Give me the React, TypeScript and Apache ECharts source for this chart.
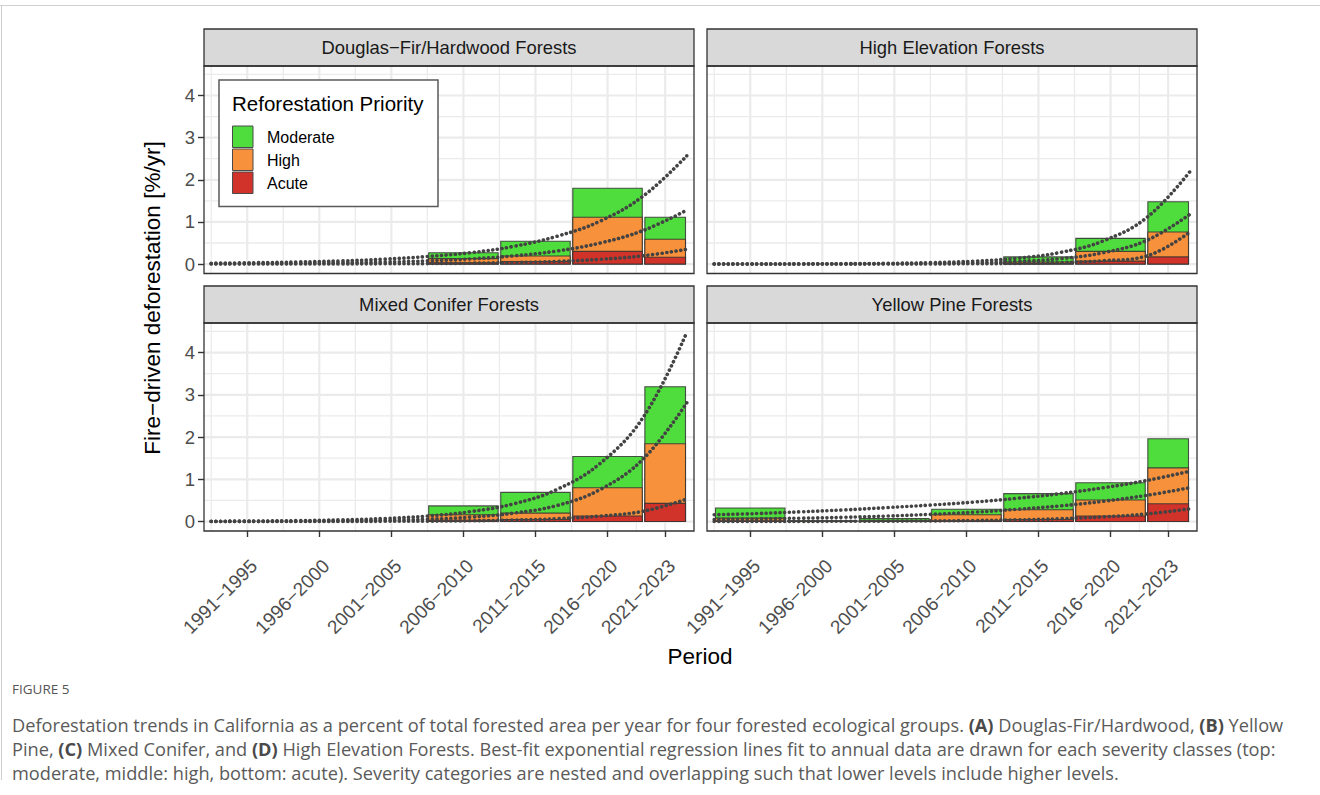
import React, { useEffect, useRef } from "react";
import * as echarts from "echarts";

const FONT = "'Liberation Sans', Arial, Helvetica, sans-serif";
const CAP_FONT = "'Open Sans', 'Noto Sans', sans-serif";

// ---------- data ----------
const panelTitles = [
  "Douglas−Fir/Hardwood Forests",
  "High Elevation Forests",
  "Mixed Conifer Forests",
  "Yellow Pine Forests",
];
const periodLabels = ["1991−1995", "1996−2000", "2001−2005", "2006−2010", "2011−2015", "2016−2020", "2021−2023"];
const periodStart = [1990.5, 1995.5, 2000.5, 2005.5, 2010.5, 2015.5, 2020.5];
const periodEnd = [1995.5, 2000.5, 2005.5, 2010.5, 2015.5, 2020.5, 2023.5];
const periodMid = [1993, 1998, 2003, 2008, 2013, 2018, 2022];
const xMinorBreaks = [1990.5, 1995.5, 2000.5, 2005.5, 2010.5, 2015.5, 2020];
const yTicks = [0, 1, 2, 3, 4];
const yMinorBreaks = [0.5, 1.5, 2.5, 3.5, 4.5];
const xRange = [1990, 2024];
const yRange = [-0.224, 4.7];

const severity = ["Moderate", "High", "Acute"];
const severityColors = ["#4FDC3D", "#F8913B", "#D1322A"];

// bar values (%/yr) per period
const douglasModerate = [0, 0, 0, 0.27, 0.54, 1.8, 1.11];
const douglasHigh = [0, 0, 0, 0.13, 0.19, 1.11, 0.59];
const douglasAcute = [0, 0, 0, 0.03, 0.06, 0.3, 0.16];

const highElevModerate = [0, 0, 0, 0, 0.17, 0.61, 1.48];
const highElevHigh = [0, 0, 0, 0, 0.05, 0.3, 0.76];
const highElevAcute = [0, 0, 0, 0, 0.01, 0.07, 0.17];

const mixedModerate = [0, 0, 0, 0.37, 0.69, 1.54, 3.19];
const mixedHigh = [0, 0, 0, 0.16, 0.2, 0.8, 1.84];
const mixedAcute = [0, 0, 0, 0.03, 0.05, 0.13, 0.43];

const yellowModerate = [0.32, 0.02, 0.07, 0.29, 0.66, 0.92, 1.96];
const yellowHigh = [0.08, 0.01, 0.02, 0.16, 0.28, 0.51, 1.27];
const yellowAcute = [0.02, 0, 0.005, 0.02, 0.05, 0.13, 0.42];

// exponential fit curves, values at these years
const fitYears = [1990.5, 1993.5, 1996.5, 1999.5, 2002.5, 2005.5, 2008.5, 2011.5, 2014.5, 2017.5, 2020.5, 2023.5];

const douglasFitModerate = [0.02, 0.032, 0.05, 0.075, 0.115, 0.18, 0.27, 0.42, 0.66, 1.02, 1.62, 2.57];
const douglasFitHigh = [0.007, 0.012, 0.019, 0.03, 0.048, 0.076, 0.122, 0.195, 0.31, 0.5, 0.8, 1.28];
const douglasFitAcute = [0.001, 0.001, 0.002, 0.004, 0.006, 0.011, 0.02, 0.036, 0.063, 0.112, 0.198, 0.35];

const highElevFitModerate = [0.001, 0.002, 0.004, 0.009, 0.017, 0.034, 0.069, 0.138, 0.275, 0.55, 1.1, 2.19];
const highElevFitHigh = [0.0, 0.001, 0.002, 0.003, 0.007, 0.014, 0.029, 0.061, 0.128, 0.27, 0.56, 1.18];
const highElevFitAcute = [0.0, 0.0, 0.0005, 0.001, 0.002, 0.003, 0.007, 0.015, 0.035, 0.08, 0.19, 0.76];

const mixedFitModerate = [0.007, 0.012, 0.022, 0.04, 0.072, 0.13, 0.235, 0.42, 0.76, 1.38, 2.48, 4.48];
const mixedFitHigh = [0.002, 0.004, 0.008, 0.015, 0.029, 0.055, 0.105, 0.2, 0.38, 0.76, 1.49, 2.81];
const mixedFitAcute = [0.0, 0.0005, 0.001, 0.002, 0.005, 0.009, 0.018, 0.035, 0.068, 0.13, 0.245, 0.53];

const yellowFitModerate = [0.16, 0.19, 0.23, 0.275, 0.33, 0.39, 0.46, 0.55, 0.66, 0.8, 0.97, 1.19];
const yellowFitHigh = [0.048, 0.062, 0.08, 0.1, 0.13, 0.17, 0.22, 0.29, 0.37, 0.48, 0.62, 0.8];
const yellowFitAcute = [0.001, 0.002, 0.003, 0.006, 0.009, 0.015, 0.025, 0.04, 0.067, 0.11, 0.18, 0.3];

const panelBars = [
  [douglasModerate, douglasHigh, douglasAcute],
  [highElevModerate, highElevHigh, highElevAcute],
  [mixedModerate, mixedHigh, mixedAcute],
  [yellowModerate, yellowHigh, yellowAcute],
];
const panelFits = [
  [douglasFitModerate, douglasFitHigh, douglasFitAcute],
  [highElevFitModerate, highElevFitHigh, highElevFitAcute],
  [mixedFitModerate, mixedFitHigh, mixedFitAcute],
  [yellowFitModerate, yellowFitHigh, yellowFitAcute],
];

const captionLines = [
  "Deforestation trends in California as a percent of total forested area per year for four forested ecological groups. {b|(A)} Douglas-Fir/Hardwood, {b|(B)} Yellow",
  "Pine, {b|(C)} Mixed Conifer, and {b|(D)} High Elevation Forests. Best-fit exponential regression lines fit to annual data are drawn for each severity classes (top:",
  "moderate, middle: high, bottom: acute). Severity categories are nested and overlapping such that lower levels include higher levels.",
];

// ---------- layout ----------
const panels = [
  { left: 204, top: 66, width: 490, height: 207.5, bottom: false, leftCol: true },
  { left: 707, top: 66, width: 490, height: 207.5, bottom: false, leftCol: false },
  { left: 204, top: 323, width: 490, height: 208, bottom: true, leftCol: true },
  { left: 707, top: 323, width: 490, height: 208, bottom: true, leftCol: false },
];
const STRIP_H = 37;
const BAR_INSET = 0.09;

function buildOption() {
  const grid = panels.map((p) => ({ left: p.left, top: p.top, width: p.width, height: p.height, containLabel: false }));
  const xAxis = panels.map((p, i) => ({
    type: "value",
    gridIndex: i,
    min: xRange[0],
    max: xRange[1],
    axisLine: { show: false, onZero: false },
    splitLine: { show: false },
    axisTick: {
      show: p.bottom,
      customValues: periodMid,
      length: 6,
      lineStyle: { color: "#333333", width: 1.4 },
    },
    axisLabel: {
      show: p.bottom,
      customValues: periodMid,
      formatter: (v: number) => {
        const k = periodMid.indexOf(v);
        return k >= 0 ? periodLabels[k] : "";
      },
      rotate: 45,
      align: "right",
      verticalAlign: "top",
      margin: 25,
      fontSize: 19,
      color: "#4D4D4D",
      fontFamily: FONT,
    },
  }));
  const yAxis = panels.map((p, i) => ({
    type: "value",
    gridIndex: i,
    min: yRange[0],
    max: yRange[1],
    axisLine: { show: false, onZero: false },
    splitLine: { show: false },
    axisTick: {
      show: p.leftCol,
      customValues: yTicks,
      length: 6,
      lineStyle: { color: "#333333", width: 1.4 },
    },
    axisLabel: {
      show: p.leftCol,
      customValues: yTicks,
      margin: 9,
      fontSize: 18.5,
      color: "#4D4D4D",
      fontFamily: FONT,
    },
  }));

  const series: any[] = [];
  panels.forEach((p, i) => {
    // vertical gridlines
    series.push({
      type: "custom",
      xAxisIndex: i,
      yAxisIndex: i,
      silent: true,
      z: 1,
      encode: { x: 0, y: 1 },
      data: periodMid.map((v) => [v, 0, 1]).concat(xMinorBreaks.map((v) => [v, 0, 0])),
      renderItem: (params: any, api: any) => {
        const cs = params.coordSys;
        const pt = api.coord([api.value(0), 0]);
        const major = api.value(2) === 1;
        return {
          type: "line",
          shape: { x1: pt[0], y1: cs.y, x2: pt[0], y2: cs.y + cs.height },
          style: { stroke: "#EBEBEB", lineWidth: major ? 2.2 : 1.3 },
        };
      },
    });
    // horizontal gridlines
    series.push({
      type: "custom",
      xAxisIndex: i,
      yAxisIndex: i,
      silent: true,
      z: 1,
      encode: { x: 0, y: 1 },
      data: yTicks.map((v) => [2000, v, 1]).concat(yMinorBreaks.map((v) => [2000, v, 0])),
      renderItem: (params: any, api: any) => {
        const cs = params.coordSys;
        const pt = api.coord([2000, api.value(1)]);
        const major = api.value(2) === 1;
        return {
          type: "line",
          shape: { x1: cs.x, y1: pt[1], x2: cs.x + cs.width, y2: pt[1] },
          style: { stroke: "#EBEBEB", lineWidth: major ? 2.2 : 1.3 },
        };
      },
    });
    // bars: moderate, high, acute (overlapping, nested)
    panelBars[i].forEach((vals, s) => {
      series.push({
        type: "custom",
        name: severity[s],
        xAxisIndex: i,
        yAxisIndex: i,
        silent: true,
        z: 2 + s * 0.1,
        encode: { x: [0, 1], y: 2 },
        data: vals.map((v, k) => [periodStart[k], periodEnd[k], v]),
        renderItem: (params: any, api: any) => {
          const v = api.value(2);
          if (!v) return null;
          const p0 = api.coord([api.value(0) + BAR_INSET, v]);
          const p1 = api.coord([api.value(1) - BAR_INSET, 0]);
          return {
            type: "rect",
            shape: { x: p0[0], y: p0[1], width: p1[0] - p0[0], height: p1[1] - p0[1] },
            style: { fill: severityColors[s], stroke: "rgba(50,50,50,0.85)", lineWidth: 1.1 },
          };
        },
      });
    });
    // fitted curves
    panelFits[i].forEach((vals, s) => {
      series.push({
        type: "line",
        name: severity[s] + " fit",
        xAxisIndex: i,
        yAxisIndex: i,
        silent: true,
        z: 5,
        showSymbol: false,
        symbol: "none",
        smooth: 0.4,
        data: fitYears.map((x, k) => [x, vals[k]]),
        lineStyle: { color: "#434343", width: 3.6, type: [0.1, 4.6], cap: "round" },
      });
    });
  });

  const graphic: any[] = [];
  // frame lines
  graphic.push({ type: "line", z: 50, shape: { x1: 0, y1: 5.5, x2: 1320, y2: 5.5 }, style: { stroke: "#CFCFCF", lineWidth: 1 } });
  graphic.push({ type: "line", z: 50, shape: { x1: 1.5, y1: 5.5, x2: 1.5, y2: 780 }, style: { stroke: "#CFCFCF", lineWidth: 1 } });

  panels.forEach((p, i) => {
    graphic.push({
      type: "rect",
      z: 60,
      shape: { x: p.left, y: p.top - STRIP_H, width: p.width, height: STRIP_H },
      style: { fill: "#D9D9D9", stroke: "#333333", lineWidth: 1.3 },
    });
    graphic.push({
      type: "text",
      z: 61,
      x: p.left + p.width / 2,
      y: p.top - STRIP_H / 2,
      style: {
        text: panelTitles[i],
        fontSize: 18.4,
        fontFamily: FONT,
        fill: "#1A1A1A",
        align: "center",
        verticalAlign: "middle",
      },
    });
    graphic.push({
      type: "rect",
      z: 60,
      shape: { x: p.left, y: p.top, width: p.width, height: p.height },
      style: { fill: "none", stroke: "#333333", lineWidth: 1.3 },
    });
  });

  // legend
  const L = { x: 219, y: 80, w: 219, h: 126.5 };
  graphic.push({
    type: "rect",
    z: 70,
    shape: { x: L.x, y: L.y, width: L.w, height: L.h },
    style: { fill: "#FFFFFF", stroke: "#5A5A5A", lineWidth: 1.5 },
  });
  graphic.push({
    type: "text",
    z: 71,
    x: 232,
    y: 103,
    style: { text: "Reforestation Priority", fontSize: 20.5, fontFamily: FONT, fill: "#000", align: "left", verticalAlign: "middle" },
  });
  severity.forEach((name, s) => {
    graphic.push({
      type: "rect",
      z: 71,
      shape: { x: 232.5, y: 126 + s * 23, width: 20.5, height: 21.5 },
      style: { fill: severityColors[s], stroke: "#4A4A4A", lineWidth: 1 },
    });
    graphic.push({
      type: "text",
      z: 71,
      x: 267,
      y: 137 + s * 23,
      style: { text: name, fontSize: 16, fontFamily: FONT, fill: "#000", align: "left", verticalAlign: "middle" },
    });
  });

  // axis titles
  graphic.push({
    type: "text",
    z: 71,
    x: 152,
    y: 298,
    rotation: Math.PI / 2,
    style: {
      text: "Fire−driven deforestation [%/yr]",
      fontSize: 22.5,
      fontFamily: FONT,
      fill: "#000",
      align: "center",
      verticalAlign: "middle",
    },
  });
  graphic.push({
    type: "text",
    z: 71,
    x: 700,
    y: 656,
    style: { text: "Period", fontSize: 22.5, fontFamily: FONT, fill: "#000", align: "center", verticalAlign: "middle" },
  });

  // caption
  graphic.push({
    type: "text",
    z: 71,
    x: 12,
    y: 689,
    style: { text: "FIGURE 5", fontSize: 13.5, fontFamily: CAP_FONT, fill: "#555555", align: "left", verticalAlign: "middle" },
  });
  captionLines.forEach((line, k) => {
    graphic.push({
      type: "text",
      z: 71,
      x: 12,
      y: 725 + k * 24,
      style: {
        text: line,
        fontSize: 18.2,
        fontFamily: CAP_FONT,
        fill: "#5A5A5A",
        align: "left",
        verticalAlign: "middle",
        rich: {
          b: { fontSize: 18.2, fontFamily: CAP_FONT, fontWeight: "bold", fill: "#4A4A4A" },
        },
      },
    });
  });

  return {
    animation: false,
    backgroundColor: "#FFFFFF",
    grid,
    xAxis,
    yAxis,
    series,
    graphic,
  };
}

export default function App() {
  const ref = useRef<HTMLDivElement>(null);
  useEffect(() => {
    if (!ref.current) return;
    const chart = echarts.init(ref.current, undefined, { renderer: "svg" });
    chart.setOption(buildOption() as any);
    return () => chart.dispose();
  }, []);
  return (
    <div
      ref={ref}
      style={{ position: "absolute", left: 0, top: 0, width: 1320, height: 795, background: "#fff" }}
    />
  );
}
